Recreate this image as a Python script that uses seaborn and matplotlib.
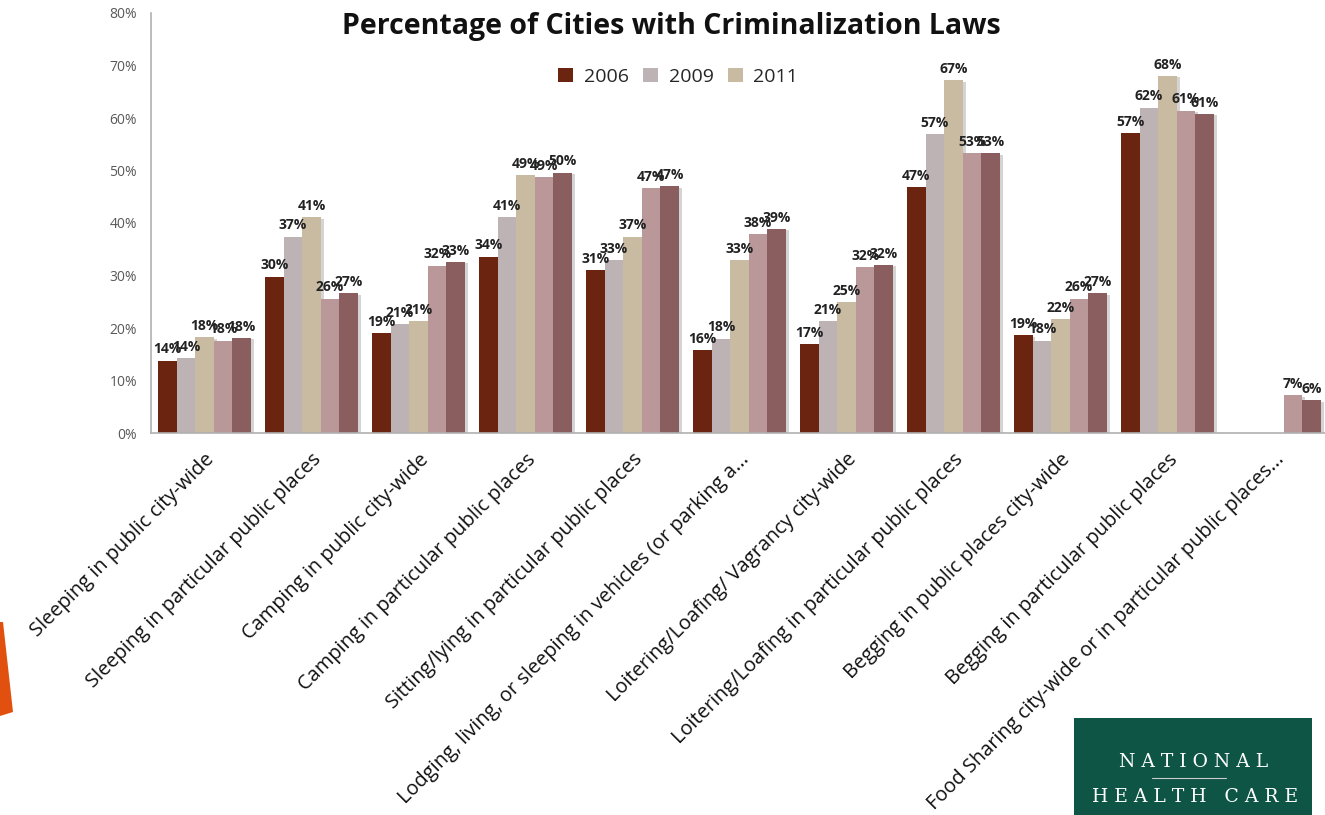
import numpy as np
import pandas as pd
import matplotlib
matplotlib.use("Agg")
import matplotlib.pyplot as plt
import matplotlib.patheffects as pe
from matplotlib.patches import Rectangle, Polygon
import seaborn as sns

categories = [
    "Sleeping in public city-wide",
    "Sleeping in particular public places",
    "Camping in public city-wide",
    "Camping in particular public places",
    "Sitting/lying in particular public places",
    "Lodging, living, or sleeping in vehicles (or parking a...",
    "Loitering/Loafing/ Vagrancy city-wide",
    "Loitering/Loafing in particular public places",
    "Begging in public places city-wide",
    "Begging in particular public places",
    "Food Sharing city-wide or in particular public places...",
]
series_names = ["2006", "2009", "2011", "Series 4", "Series 5"]
legend_names = ["2006", "2009", "2011"]

v2006 = [13.8, 29.8, 19.0, 33.6, 31.0, 15.8, 17.0, 46.9, 18.6, 57.1, np.nan]
v2009 = [14.3, 37.4, 20.8, 41.1, 33.0, 18.0, 21.3, 57.0, 17.6, 62.0, np.nan]
v2011 = [18.2, 41.1, 21.3, 49.1, 37.4, 33.0, 25.0, 67.2, 21.7, 68.0, np.nan]
v_s4 = [17.6, 25.6, 31.9, 48.7, 46.6, 37.9, 31.6, 53.3, 25.6, 61.4, 7.2]
v_s5 = [18.1, 26.6, 32.6, 49.6, 47.0, 38.9, 32.0, 53.3, 26.6, 60.8, 6.2]

colors = ["#6B2410", "#BDB3B5", "#C9BBA2", "#BA9899", "#8A5E5E"]

rows = []
for name, vals in zip(series_names, [v2006, v2009, v2011, v_s4, v_s5]):
    for cat, v in zip(categories, vals):
        if not np.isnan(v):
            rows.append({"category": cat, "series": name, "value": v})
df = pd.DataFrame(rows)

sns.set_theme(style="white")
plt.rcParams["font.family"] = ["Open Sans", "DejaVu Sans"]

fig = plt.figure(figsize=(13.25, 8.15), dpi=100)
ax = fig.add_axes([151 / 1325, 1 - 433 / 815, (1328 - 151) / 1325, (433 - 13) / 815])

sns.barplot(
    data=df, x="category", y="value", hue="series",
    order=categories, hue_order=series_names,
    palette=colors, width=0.87, errorbar=None, saturation=1,
    linewidth=0, ax=ax,
)

shadow = [pe.SimplePatchShadow(offset=(2, -1), alpha=0.25, shadow_rgbFace="#555555"), pe.Normal()]
for cont in ax.containers:
    for bar in cont:
        bar.set_path_effects(shadow)
    ax.bar_label(cont, fmt=lambda v: f"{v:.0f}%", padding=3,
                 fontsize=10, fontweight="bold", color="#222222")

ax.set_xlim(-0.5, 10.5)
ax.set_ylim(0, 80)
ax.set_yticks(np.arange(0, 81, 10))
ax.set_yticklabels([f"{t}%" for t in range(0, 81, 10)], fontsize=10, color="#595959")
ax.tick_params(axis="y", length=0, pad=10)
ax.tick_params(axis="x", length=0, pad=12)
ax.set_xticks(range(len(categories)))
ax.set_xticklabels(categories, rotation=45, ha="right", rotation_mode="anchor",
                   fontsize=14.4, color="#111111")
ax.set_xlabel("")
ax.set_ylabel("")

for side in ["top", "right"]:
    ax.spines[side].set_visible(False)
for side in ["left", "bottom"]:
    ax.spines[side].set_color("#B0B0B0")
    ax.spines[side].set_linewidth(1.2)

handles, labels = ax.get_legend_handles_labels()
ax.legend(handles[:3], legend_names, loc="center", bbox_to_anchor=(0.448, 0.848),
          ncol=3, frameon=False, fontsize=14, handlelength=0.75, handleheight=0.75,
          columnspacing=0.75, handletextpad=0.55)

fig.text(0.507, 0.968, "Percentage of Cities with Criminalization Laws",
         ha="center", va="center", fontsize=20.5, fontweight="bold", color="#111111")

# organisation logo block in the lower right corner
fig.patches.append(Rectangle((1074 / 1325, 0), (1312 - 1074) / 1325, (815 - 718) / 815,
                             transform=fig.transFigure, facecolor="#0E5546",
                             edgecolor="none", zorder=5))
fig.text(1194 / 1325, 1 - 762 / 815, "N A T I O N A L", ha="center", va="center",
         fontsize=13.5, color="white", family="DejaVu Serif", zorder=6)
fig.lines.append(plt.Line2D([1152 / 1325, 1226 / 1325], [1 - 778 / 815, 1 - 778 / 815],
                            transform=fig.transFigure, color="#CCCCCC", lw=0.8, zorder=6))
fig.text(1195 / 1325, 1 - 797 / 815, "H E A L T H   C A R E", ha="center", va="center",
         fontsize=13.5, color="white", family="DejaVu Serif", zorder=6)

# slide accent on the left edge
fig.patches.append(Polygon([(0, 1 - 622 / 815), (3 / 1325, 1 - 622 / 815),
                            (13 / 1325, 1 - 712 / 815), (0, 1 - 716 / 815)],
                           closed=True, transform=fig.transFigure,
                           facecolor="#E2500F", edgecolor="none"))

fig.savefig("out.png", dpi=100)
